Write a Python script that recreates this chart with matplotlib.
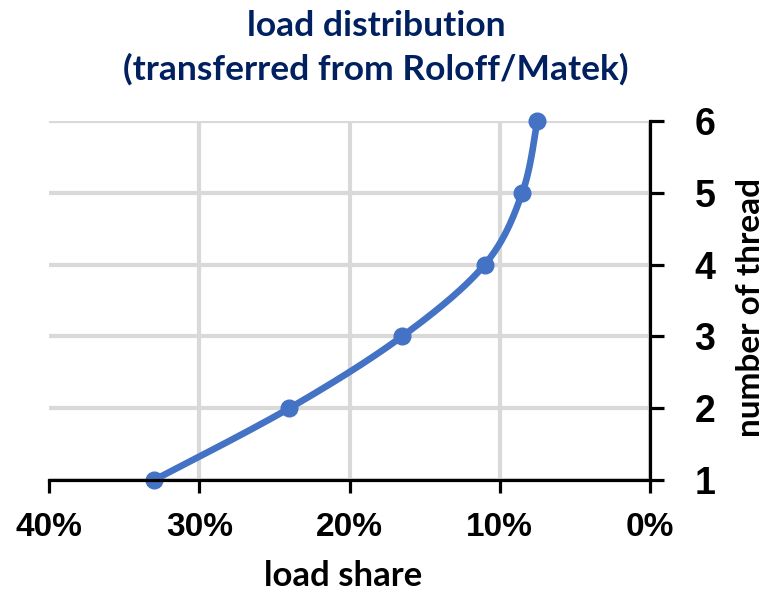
import numpy as np
import matplotlib
matplotlib.use("Agg")
import matplotlib.pyplot as plt
from matplotlib.ticker import FixedLocator

# Load share per thread (percent)
threads = [1, 2, 3, 4, 5, 6]
load_share = [33.0, 24.0, 16.5, 11.0, 8.5, 7.5]
x_ticks = [40, 30, 20, 10, 0]
x_tick_labels = ["40%", "30%", "20%", "10%", "0%"]
y_ticks = [1, 2, 3, 4, 5, 6]

title = "load distribution\n(transferred from Roloff/Matek)"
xlabel = "load share"
ylabel = "number of thread"

LINE_BLUE = "#4472C4"
NAVY = "#002060"
GRID = "#D9D9D9"

W, H, DPI = 768, 595, 100
fig = plt.figure(figsize=(W / DPI, H / DPI), dpi=DPI)
ax = fig.add_axes([49 / W, 1 - 480 / H, (650 - 49) / W, (480 - 121) / H])

xmin, xmax = 40, 0
ymin, ymax = 1, 6
ax.set_xlim(xmin, xmax)
ax.set_ylim(ymin, ymax)


def smooth_curve(xs, ys, n=40):
    """Bezier smoothing (Catmull-Rom style) done in screen-proportional space."""
    sx = 601 / 40.0
    sy = 359 / 5.0
    P = np.column_stack([np.asarray(xs) * sx, np.asarray(ys) * sy])
    pts = np.vstack([P[0], P, P[-1]])
    out = []
    t = np.linspace(0, 1, n)[:, None]
    for i in range(1, len(pts) - 2):
        p0, p1, p2, p3 = pts[i - 1], pts[i], pts[i + 1], pts[i + 2]
        c1 = p1 + (p2 - p0) / 6.0
        c2 = p2 - (p3 - p1) / 6.0
        seg = ((1 - t) ** 3) * p1 + 3 * ((1 - t) ** 2) * t * c1 + 3 * (1 - t) * t ** 2 * c2 + t ** 3 * p2
        out.append(seg if i == 1 else seg[1:])
    out = np.vstack(out)
    return out[:, 0] / sx, out[:, 1] / sy


cx, cy = smooth_curve(load_share, threads)
ax.plot(cx, cy, color=LINE_BLUE, lw=4.8, solid_capstyle="round", zorder=3, clip_on=False)
ax.plot(load_share, threads, "o", color=LINE_BLUE, ms=12, zorder=4, clip_on=False)

# Grid
ax.xaxis.set_major_locator(FixedLocator(x_ticks))
ax.yaxis.set_major_locator(FixedLocator(y_ticks))
ax.grid(True, color=GRID, lw=3.0, zorder=0)
ax.set_axisbelow(True)

# Spines: only bottom and right
for s in ["top", "left"]:
    ax.spines[s].set_visible(False)
for s in ["bottom", "right"]:
    ax.spines[s].set_linewidth(2.3)
    ax.spines[s].set_color("black")
    ax.spines[s].set_zorder(5)

ax.yaxis.tick_right()
ax.yaxis.set_label_position("right")

tick_font = ["Liberation Sans", "DejaVu Sans"]
ax.set_xticks(x_ticks)
ax.set_xticklabels(x_tick_labels, fontsize=24, fontweight="bold", family=tick_font)
ax.set_yticks(y_ticks)
ax.set_yticklabels([str(v) for v in y_ticks], fontsize=27, fontweight="bold", family=tick_font)
ax.tick_params(axis="x", direction="out", length=9, width=2.3, pad=14, colors="black")
ax.tick_params(axis="y", direction="out", length=10, width=2.3, pad=22, colors="black")

# Hide the vertical gridline on the 40% edge
ax.xaxis.get_gridlines()[0].set_visible(False)

label_font = ["Lato", "DejaVu Sans"]
fig.text(343 / W, 1 - 576 / H, xlabel, ha="center", va="center", fontsize=25,
         fontweight="bold", family=label_font, color="black")
fig.text(751 / W, 1 - 307 / H, ylabel, ha="center", va="center", rotation=90,
         fontsize=24, fontweight="bold", family=label_font, color="black")

fig.text(376 / W, 1 - 48 / H, title, ha="center", va="center", fontsize=25.5,
         fontweight="bold", family=label_font, color=NAVY, linespacing=1.42)

fig.savefig("out.png", dpi=DPI)
